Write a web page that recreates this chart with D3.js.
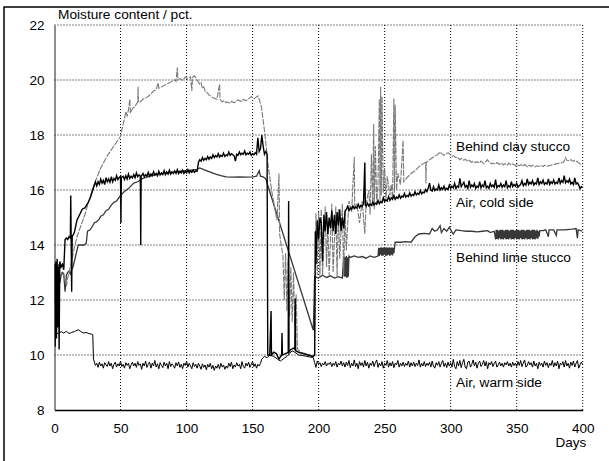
<!DOCTYPE html>
<html>
<head>
<meta charset="utf-8">
<script src="https://cdn.jsdelivr.net/npm/d3@7"></script>
<style>
  body { margin: 0; background: #fff; }
  svg text { font-family: "Liberation Sans", Arial, sans-serif; fill: #000; }
</style>
</head>
<body>
<div id="chart"></div>
<script>
// x ticks (days) and y ticks (moisture content)
const dayTicks = [0, 50, 100, 150, 200, 250, 300, 350, 400];
const moistTicks = [8, 10, 12, 14, 16, 18, 20, 22];

// [day, moisture %]
const clayStucco = [
  [5,13.0],[7,12.9],[9,12.5],[10,12.8],[11,13.0],[13,13.4],[15,13.9],[17,14.3],[20,14.7],[23,15.1],[26,15.6],[30,16.2],
  [35,16.8],[40,17.25],[45,17.6],[50,17.95],[52,18.4],[53,18.6],[54,18.85],[55,18.7],[56,18.9],[57,19.3],[57.5,18.8],
  [59,18.95],[61,19.05],[63,19.2],[63.3,19.75],[63.6,19.2],[65,19.2],[67,19.3],[69,19.35],[71,19.4],[73,19.5],[75,19.6],
  [77,19.65],[78.5,19.9],[79,19.7],[81,19.75],[83,19.8],[85,19.85],[87,19.9],[89,19.95],[91,20.0],[92,19.95],[93,20.45],
  [93.5,20.0],[95,20.05],[97,20.0],[99,20.1],[101,20.05],[103,20.12],[104,19.6],[104.5,20.1],[106,20.15],[108,20.0],
  [110,19.85],[111,19.9],[112,19.7],[113,19.75],[114,19.6],[116,19.52],[117,19.45],[119,19.4],[120,19.35],[122,19.32],
  [123,19.3],[125,19.85],[125.4,19.3],[127,19.2],[128,19.25],[130,19.18],[131,19.2],[133,19.15],[134,19.22],[136,19.18],
  [137,19.2],[139,19.28],[140,19.25],[142,19.22],[143,19.3],[145,19.25],[146,19.28],[148,19.35],[149,19.4],[151,19.32],
  [152,19.35],[154,19.42],[155,19.3],[156.8,19.0],
  [159.3,18.05],[161.9,16.85],[164.4,16.0],[167,15.27],[168.5,14.9],[170,16.6],[170.5,14.4],[172,13.9],[173,13.6],
  [174,12.0],[175,13.7],[176,11.6],[177,13.5],[178,11.4],[179,13.2],[180,11.2],[181,13.0],[182,11.0],[183,12.2],
  [184,10.2],[187,10.1],[190,10.05],[193,10.0],[196,9.93],[197,10.0],[198,15.15],[199,12.9],[200,15.2],[201,12.8],
  [202,15.3],[203,12.9],[205,15.4],[206,13.2],[207,14.8],[208,12.9],[210,15.5],[211,13.0],[213,15.4],[214,12.85],
  [215,15.3],[216,13.5],[218,15.5],[219,12.9],[220,15.3],[221,13.8],[223,15.6],[225,15.2],[227,17.2],[227.4,15.3],
  [229,15.5],[231,14.8],[233,15.6],[235,14.4],[236,15.5],[238,16.0],[239,15.1],[240,17.3],[241,15.4],[241.7,18.4],
  [242.2,15.3],[243,17.6],[244,15.5],[245,16.2],[246,19.3],[246.5,15.6],[247,19.76],[247.5,15.8],[248,19.4],[249,15.9],
  [250,16.8],[251,15.6],[252,16.5],[254,15.8],[255,16.2],[256,15.7],[257,19.33],[257.5,15.9],[258,19.1],[259,16.0],
  [260,16.6],[262,16.2],[264,17.8],[264.5,16.3],[266,16.4],[268,16.5],[270,16.6],[273,16.7],[276,16.85],[279,16.95],
  [281,17.0],[281.3,16.24],[281.6,17.0],[284,17.1],[287,17.2],[290,17.28],[292,17.38],[293,17.33],[295,17.26],[296,17.3],
  [298,17.35],[299,17.32],[301,17.22],[302,17.25],[304,17.18],[305,17.2],[307,17.1],[308,17.15],[310,17.08],[311,17.12],
  [313,17.04],[314,17.08],[316,17.0],[317,17.05],[319,17.0],[320,17.03],[322,16.98],[323,17.05],[325,16.96],[326,17.0],
  [328,17.1],[329,17.02],[331,16.95],[332,16.98],[334,16.94],[335,17.0],[337,16.93],[338,16.98],[340,16.92],[341,16.96],
  [343,16.9],[344,16.98],[346,16.9],[347,16.95],[349,16.88],[350,16.94],[352,16.88],[353,16.92],[355,16.86],
  [356,16.93],[358,16.85],[359,16.9],[361,16.86],[362,16.9],[364,16.84],[365,16.88],[367,16.86],[368,16.9],[370,16.85],
  [371,16.9],[373,16.86],[374,16.88],[376,16.9],[377,16.92],[379,16.94],[380,16.95],[382,16.97],[383,16.98],[385,17.0],
  [386,17.05],[387,17.18],[388,17.08],[390,17.06],[391,17.1],[393,17.04],[394,17.08],[396,17.02],[397,16.98],[399,16.92],
  [400,16.95]
];

const coldSide = [
  [0,13.3],[0.5,10.3],[1,13.4],[1.5,10.6],[2,13.5],[2.5,11.0],[3,13.2],[3.5,10.2],[4,13.4],[5,13.2],[6,13.3],[7,13.1],
  [8,14.2],[9,14.25],[10,14.2],[11,14.3],[12,14.25],[12.3,15.8],[12.6,14.3],[13,12.3],[13.4,14.3],[15,14.45],[17,14.9],
  [19,15.1],[21,15.3],[23,15.35],[25,15.5],[27,15.7],[29,16.0],[31,16.3],[32,16.15],[33,16.3],[34,16.2],[35,16.4],
  [36,16.25],[37,16.35],[38,16.2],[39,16.45],[40,16.3],[41,16.4],[42,16.28],[43,16.48],[44,16.3],[45,16.42],[46,16.35],
  [47,16.52],[48,16.38],[49,16.46],[50,16.5],[50.3,14.8],[50.6,16.45],[52,16.5],[53,16.38],[54,16.52],[55,16.4],
  [56,16.58],[57,16.42],[58,16.5],[59,16.44],[60,16.56],[61,16.45],[62,16.62],[63,16.48],[64,16.55],[65,16.5],
  [65.3,14.0],[65.6,16.5],[67,16.6],[68,16.48],[69,16.56],[70,16.5],[71,16.64],[72,16.5],[73,16.58],[74,16.52],
  [75,16.66],[76,16.54],[77,16.6],[78,16.52],[79,16.68],[80,16.55],[81,16.62],[82,16.56],[83,16.7],[84,16.56],
  [85,16.66],[86,16.58],[87,16.72],[88,16.58],[89,16.66],[90,16.6],[91,16.7],[92,16.6],[93,16.74],[94,16.6],[95,16.68],
  [96,16.62],[97,16.72],[98,16.6],[99,16.68],[100,16.62],[101,16.74],[102,16.62],[103,16.7],[104,16.64],[105,16.72],
  [106,16.64],[107,16.7],[108,16.68],[109,17.0],[110,17.1],[111,17.05],[112,17.18],[113,17.08],[114,17.15],[115,17.1],
  [116,17.22],[117,17.12],[118,17.2],[119,17.15],[120,17.28],[121,17.18],[122,17.25],[123,17.2],[124,17.32],[125,17.2],
  [126,17.26],[127,17.22],[128,17.34],[129,17.22],[130,17.28],[131,17.25],[132,17.38],[133,17.26],[134,17.32],
  [135,17.28],[136,17.25],[137,17.05],[138,17.3],[139,17.26],[140,17.38],[141,17.28],[142,17.34],[143,17.3],[144,17.42],
  [145,17.28],[146,17.34],[147,17.3],[148,17.38],[149,17.26],[150,17.32],[151,17.28],[152,17.36],[153,17.3],
  [154,17.9],[155,17.4],[156,17.5],[157,18.0],[158,17.6],[159,17.3],[160,17.4],[161,17.3],
  [161.5,10.0],[163,10.0],[164,11.6],[164.3,10.0],[166,10.1],[168,10.05],[170,9.85],[172,10.0],[172.3,10.8],
  [172.6,10.0],[175,10.05],[177,10.1],[177.3,15.6],[177.6,10.1],[179,10.2],[181,10.25],[182,10.2],[182.3,12.05],
  [182.6,10.15],[185,10.1],[188,10.05],[192,10.0],[196,9.95],[197,10.0],[197.5,14.5],[198,13.3],[199,14.9],[200,14.2],
  [201,15.0],[202,14.8],[203,13.4],[204,15.1],[205,14.5],[206,15.2],[207,14.4],[208,15.0],[209,14.6],[210,15.25],
  [211,14.5],[212,15.1],[213,14.4],[214,15.2],[215,14.7],[216,15.3],[217,14.5],[218,15.0],[219,14.6],[220,15.2],
  [221,15.3],[222,15.4],[223,15.25],[224,15.35],[225,15.3],[226,15.42],[227,15.32],[228,15.38],[229,15.34],[230,15.48],
  [231,15.36],[232,15.44],[233,15.4],[234,15.5],[235,17.0],[235.4,15.45],[236,15.4],[237,15.52],[238,15.42],[239,15.48],
  [240,15.44],[241,15.56],[242,15.46],[243,15.52],[244,15.48],[245,15.62],[246,15.5],[247,15.58],[248,15.54],[249,15.72],
  [250,15.58],[251,15.64],[252,15.6],[253,15.76],[254,15.62],[255,15.72],[256,15.66],[257,15.8],[258,15.66],[259,15.74],
  [260,15.7],[261,15.82],[262,15.7],[263,15.78],[264,15.74],[265,15.88],[266,15.74],[267,15.8],[268,15.76],[269,15.9],
  [270,15.78],[271,15.84],[272,15.8],[273,15.94],[274,15.82],[275,15.88],[276,15.84],[277,15.98],[278,15.86],
  [279,15.92],[280,15.9],[281,16.02],[282,15.94],[283,16.06],[284,16.25],[285,16.0],[286,15.96],[287,16.12],[288,15.98],
  [289,16.04],[290,16.0],[291,16.18],[292,16.0],[293,16.08],[294,16.02],[295,16.14],[296,16.0],[297,16.06],[298,16.02],
  [299,16.18],[300,16.06],[301,16.14],[302,16.08],[303,16.24],[304,16.06],[305,16.14],[306,16.1],[307,16.42],
  [308,16.12],[309,16.2],[310,16.28],[311,16.1],[312,16.16],[313,16.06],[314,16.34],[315,16.1],[316,16.18],[317,16.12],
  [318,16.24],[319,16.06],[320,16.14],[321,16.1],[322,16.3],[323,16.08],[324,16.18],[325,16.12],[326,16.34],[327,16.08],
  [328,16.14],[329,16.06],[330,16.24],[331,16.12],[332,16.18],[333,16.1],[334,16.38],[335,16.08],[336,16.16],
  [337,16.12],[338,16.24],[339,16.1],[340,16.18],[341,16.12],[342,16.34],[343,16.08],[344,16.16],[345,16.1],[346,16.3],
  [347,16.12],[348,16.2],[349,16.14],[350,16.24],[351,16.1],[352,16.16],[353,16.2],[354,16.34],[355,16.16],[356,16.24],
  [357,16.18],[358,16.4],[359,16.2],[360,16.28],[361,16.22],[362,16.34],[363,16.18],[364,16.26],[365,16.22],[366,16.44],
  [367,16.2],[368,16.3],[369,16.24],[370,16.36],[371,16.2],[372,16.26],[373,16.22],[374,16.4],[375,16.2],[376,16.3],
  [377,16.24],[378,16.36],[379,16.22],[380,16.28],[381,16.24],[382,16.44],[383,16.24],[384,16.34],[385,16.28],
  [386,16.52],[387,16.26],[388,16.34],[389,16.28],[390,16.4],[391,16.22],[392,16.28],[393,16.2],[394,16.44],[395,16.22],
  [396,16.26],[397,16.18],[398,16.05],[399,16.12],[400,16.1]
];

const limeStucco = [
  [2,12.9],[3,13.3],[4,12.6],[5,12.9],[6,13.0],[7,12.95],[8,12.3],[9,12.9],[10,13.0],[11,13.05],[12,12.95],[13,13.1],
  [14,13.2],[16,13.6],[18,14.0],[20,14.0],[22,14.0],[24,14.05],[25,14.5],[27,14.55],[29,14.7],[30,14.8],[32,14.85],
  [34,14.95],[35,15.05],[37,15.1],[39,15.25],[41,15.3],[43,15.45],[45,15.55],[47,15.6],[50,15.8],[53,15.95],[56,16.05],
  [58,16.15],[60,16.25],[63,16.3],[67,16.42],[72,16.5],[78,16.58],[85,16.62],[92,16.66],[100,16.7],[105,16.73],
  [108,16.75],[110,16.8],[114,16.72],[118,16.65],[122,16.58],[126,16.52],[130,16.48],[135,16.47],[140,16.48],
  [145,16.47],[150,16.48],[153,16.5],[155,16.7],[156,16.5],[158,16.48],[160,16.4],[196,10.9],[197,12.85],[200,12.8],
  [203,12.9],[206,12.82],[209,12.88],[212,12.8],[215,12.85],[218,12.8],[219,13.6],[219.5,12.85],[220,13.55],
  [220.5,12.85],[221,13.6],[221.5,12.8],[222,13.55],[222.5,12.85],[223,13.6],[224,13.55],[227,13.6],[230,13.55],
  [233,13.58],[236,13.52],[239,13.6],[242,13.55],[245,13.6],[245.5,13.9],[246,13.6],[246.5,13.9],[247,13.65],
  [247.5,13.92],[248,13.6],[248.5,13.9],[249,13.62],[249.5,13.92],[250,13.65],[250.5,13.9],[251,13.6],[251.5,13.92],
  [252,13.62],[252.5,13.9],[253,13.65],[253.5,13.92],[254,13.6],[254.5,13.9],[255,13.65],[255.5,13.92],[256,13.62],
  [256.5,13.9],[257,13.7],[258,14.1],[262,14.1],[266,14.12],[270,14.1],[273,14.3],[276,14.4],[280,14.42],[284,14.4],
  [286,14.6],[288,14.5],[290,14.55],[292,14.7],[293,14.45],[295,14.6],[297,14.5],[299,14.65],[300,14.55],[302,14.4],
  [304,14.55],[308,14.52],[312,14.5],[316,14.5],[320,14.48],[324,14.5],[328,14.52],[330,14.45],[333,14.5],
  [334,14.2],[334.5,14.55],[335,14.22],[335.5,14.55],[336,14.2],[336.5,14.52],[337,14.25],[337.5,14.55],[338,14.2],
  [338.5,14.55],[339,14.22],[339.5,14.55],[340,14.2],[340.5,14.52],[341,14.25],[341.5,14.55],[342,14.2],[342.5,14.55],
  [343,14.22],[343.5,14.55],[344,14.2],[344.5,14.52],[345,14.25],[345.5,14.55],[346,14.2],[346.5,14.55],[347,14.22],
  [347.5,14.55],[348,14.2],[348.5,14.52],[349,14.25],[349.5,14.55],[350,14.2],[350.5,14.55],[351,14.22],[351.5,14.55],
  [352,14.2],[352.5,14.52],[353,14.25],[353.5,14.55],[354,14.2],[354.5,14.55],[355,14.22],[355.5,14.55],[356,14.2],
  [356.5,14.52],[357,14.25],[357.5,14.55],[358,14.2],[358.5,14.55],[359,14.22],[359.5,14.55],[360,14.2],[360.5,14.52],
  [361,14.25],[361.5,14.55],[362,14.2],[362.5,14.55],[363,14.22],[363.5,14.55],[364,14.2],[364.5,14.52],[365,14.25],
  [365.5,14.55],[366,14.22],[366.5,14.5],[367,14.3],[367.5,14.52],
  [370,14.52],[372,14.55],[374,14.3],[374.5,14.55],[378,14.55],[380,14.35],
  [380.5,14.55],[386,14.55],[392,14.58],[395,14.6],[396,14.25],[396.5,14.55],[400,14.5]
];

const warmSide = [
  [0,10.75],[1,10.8],[3,10.78],[5,10.85],[7,10.8],[9,10.86],[11,10.78],[13,10.82],[15,10.85],[17,10.9],[18,10.92],
  [20,10.85],[22,10.8],[24,10.82],[26,10.78],[28,10.76],[29,10.74],[29.5,9.85],
  [30,9.78],[31,9.62],[32,9.7],[33,9.55],[34,9.74],[35,9.6],[36,9.68],[37,9.52],[38,9.72],[39,9.64],[40,9.58],
  [41,9.76],[42,9.6],[43,9.7],[44,9.5],[45,9.66],[46,9.74],[47,9.56],[48,9.68],[49,9.6],[50,9.78],[51,9.58],[52,9.66],
  [53,9.52],[54,9.72],[55,9.62],[56,9.7],[57,9.5],[58,9.64],[59,9.74],[60,9.6],[61,9.7],[62,9.55],[63,9.76],[64,9.62],
  [65,9.68],[66,9.48],[67,9.7],[68,9.6],[69,9.78],[70,9.55],[71,9.66],[72,9.74],[73,9.52],[74,9.7],[75,9.6],[76,9.8],
  [77,9.56],[78,9.68],[79,9.5],[80,9.72],[81,9.62],[82,9.54],[83,9.74],[84,9.6],[85,9.7],[86,9.5],[87,9.76],[88,9.58],
  [89,9.68],[90,9.62],[91,9.52],[92,9.72],[93,9.6],[94,9.75],[95,9.55],[96,9.66],[97,9.5],[98,9.7],[99,9.62],[100,9.78],
  [101,9.56],[102,9.7],[103,9.6],[104,9.5],[105,9.72],[106,9.58],[107,9.66],[108,9.52],[109,9.7],[110,9.6],[111,9.48],
  [112,9.68],[113,9.55],[114,9.64],[115,9.46],[116,9.66],[117,9.56],[118,9.7],[119,9.5],[120,9.62],[121,9.44],
  [122,9.6],[123,9.52],[124,9.66],[125,9.5],[126,9.7],[127,9.56],[128,9.64],[129,9.48],[130,9.6],[131,9.52],[132,9.7],
  [133,9.58],[134,9.74],[135,9.5],[136,9.64],[137,9.56],[138,9.72],[139,9.6],[140,9.66],[141,9.5],[142,9.76],[143,9.58],
  [144,9.52],[145,9.7],[146,9.6],[147,9.74],[148,9.55],[149,9.66],[150,9.76],[151,9.58],[152,9.68],[153,9.52],
  [154,9.66],[155,9.6],[156,9.7],[157,9.85],[159,9.95],[161,9.9],[163,10.0],[166,9.95],[169,9.85],
  [171,9.78],[173,9.85],[176,9.95],[178,10.05],[180,10.15],[182,10.1],[185,10.0],[188,9.98],[191,9.95],[194,9.92],
  [196,9.9],[197,9.72],[198,9.55],[199,9.78],[200,9.66],[201,9.72],[202,9.58],[203,9.7],[204,9.64],[205,9.76],
  [206,9.6],[207,9.7],[208,9.66],[209,9.74],[210,9.58],[211,9.7],[212,9.62],[213,9.76],[214,9.56],[215,9.7],[216,9.64],
  [217,9.78],[218,9.6],[219,9.72],[220,9.56],[221,9.74],[222,9.62],[223,9.8],[224,9.54],[225,9.7],[226,9.6],[227,9.82],
  [228,9.58],[229,9.7],[230,9.5],[231,9.76],[232,9.62],[233,9.72],[234,9.56],[235,9.8],[236,9.6],[237,9.74],[238,9.52],
  [239,9.7],[240,9.62],[241,9.78],[242,9.58],[243,9.72],[244,9.82],[245,9.55],[246,9.7],[247,9.6],[248,9.76],[249,9.52],
  [250,9.7],[251,9.62],[252,9.8],[253,9.56],[254,9.72],[255,9.6],[256,9.76],[257,9.54],[258,9.7],[259,9.64],[260,9.8],
  [261,9.56],[262,9.7],[263,9.6],[264,9.74],[265,9.58],[266,9.7],[267,9.62],[268,9.78],[269,9.56],[270,9.72],[271,9.6],
  [272,9.74],[273,9.58],[274,9.7],[275,9.62],[276,9.82],[277,9.56],[278,9.7],[279,9.6],[280,9.76],[281,9.58],[282,9.7],
  [283,9.62],[284,9.74],[285,9.56],[286,9.78],[287,9.6],[288,9.52],[289,9.72],[290,9.62],[291,9.76],[292,9.56],
  [293,9.7],[294,9.8],[295,9.58],[296,9.7],[297,9.54],[298,9.74],[299,9.6],[300,9.72],[301,9.56],[302,9.84],[303,9.58],
  [304,9.5],[305,9.76],[306,9.6],[307,9.8],[308,9.54],[309,9.72],[310,9.84],[311,9.56],[312,9.5],[313,9.74],[314,9.78],
  [315,9.56],[316,9.66],[317,9.82],[318,9.6],[319,9.74],[320,9.52],[321,9.7],[322,9.78],[323,9.58],[324,9.66],
  [325,9.8],[326,9.6],[327,9.76],[328,9.5],[329,9.72],[330,9.64],[331,9.76],[332,9.58],[333,9.7],[334,9.78],[335,9.56],
  [336,9.64],[337,9.74],[338,9.6],[339,9.7],[340,9.56],[341,9.72],[342,9.64],[343,9.76],[344,9.6],[345,9.7],[346,9.56],
  [347,9.74],[348,9.62],[349,9.7],[350,9.58],[351,9.76],[352,9.62],[353,9.8],[354,9.58],[355,9.7],[356,9.82],
  [357,9.56],[358,9.62],[359,9.76],[360,9.64],[361,9.72],[362,9.56],[363,9.78],[364,9.6],[365,9.7],[366,9.5],
  [367,9.74],[368,9.62],[369,9.7],[370,9.56],[371,9.78],[372,9.62],[373,9.72],[374,9.54],[375,9.7],[376,9.62],
  [377,9.8],[378,9.56],[379,9.72],[380,9.6],[381,9.78],[382,9.5],[383,9.7],[384,9.64],[385,9.76],[386,9.56],[387,9.8],
  [388,9.6],[389,9.7],[390,9.52],[391,9.74],[392,9.62],[393,9.78],[394,9.56],[395,9.7],[396,9.8],[397,9.52],[398,9.64],
  [399,9.74],[400,9.66]
];

const seriesLabels = ["Behind clay stucco", "Air, cold side", "Behind lime stucco", "Air, warm side"];

const W = 609, H = 461;
const plot = { left: 54.5, right: 582.7, top: 25, bottom: 410 };

const svg = d3.select("#chart").append("svg")
    .attr("width", W)
    .attr("height", H);

const x = d3.scaleLinear().domain([0, 400]).range([plot.left, plot.right]);
const y = d3.scaleLinear().domain([8, 22]).range([plot.bottom, plot.top]);

// outer frame (only left and top edges show)
svg.append("path")
    .attr("d", `M4,${H} L4,7 L${W},7`)
    .attr("fill", "none")
    .attr("stroke", "#000")
    .attr("stroke-width", 1.5);

// dotted grid
svg.append("g").selectAll("line")
    .data(dayTicks.slice(1))
    .join("line")
    .attr("x1", d => x(d)).attr("x2", d => x(d))
    .attr("y1", plot.top).attr("y2", plot.bottom)
    .attr("stroke", "#000").attr("stroke-dasharray", "1,2");

svg.append("g").selectAll("line")
    .data(moistTicks.slice(1))
    .join("line")
    .attr("x1", plot.left).attr("x2", plot.right)
    .attr("y1", d => y(d)).attr("y2", d => y(d))
    .attr("stroke", "#000").attr("stroke-dasharray", "1,2");

// axes
const xAxis = svg.append("g")
    .attr("transform", `translate(0,${plot.bottom})`)
    .call(d3.axisBottom(x).tickValues(dayTicks).tickSize(0).tickPadding(13));
const yAxis = svg.append("g")
    .attr("transform", `translate(${plot.left},0)`)
    .call(d3.axisLeft(y).tickValues(moistTicks).tickSize(0).tickPadding(10));

xAxis.select(".domain").attr("stroke", "#000").attr("stroke-width", 1.5);
yAxis.select(".domain").attr("stroke", "#444").attr("stroke-width", 1.2);
svg.selectAll(".tick text")
    .style("font-family", "'Liberation Sans', Arial, sans-serif")
    .style("font-size", "13.5px")
    .attr("fill", "#000");

// lines
const line = d3.line().x(d => x(d[0])).y(d => y(d[1]));

svg.append("defs").append("clipPath").attr("id", "clip")
    .append("rect")
    .attr("x", plot.left).attr("y", plot.top - 2)
    .attr("width", plot.right - plot.left).attr("height", plot.bottom - plot.top + 2);

const lines = svg.append("g").attr("clip-path", "url(#clip)");

lines.append("path").datum(warmSide)
    .attr("d", line).attr("fill", "none")
    .attr("stroke", "#000").attr("stroke-width", 1);

lines.append("path").datum(limeStucco)
    .attr("d", line).attr("fill", "none")
    .attr("stroke", "#383838").attr("stroke-width", 1.3);

lines.append("path").datum(clayStucco)
    .attr("d", line).attr("fill", "none")
    .attr("stroke", "#7a7a7a").attr("stroke-width", 1.1)
    .attr("stroke-dasharray", "6,1.2");

lines.append("path").datum(coldSide)
    .attr("d", line).attr("fill", "none")
    .attr("stroke", "#000").attr("stroke-width", 1.4);

// series labels
const labelY = [150.5, 207, 261.5, 387];
svg.append("g").selectAll("text")
    .data(seriesLabels)
    .join("text")
    .attr("x", 456)
    .attr("y", (d, i) => labelY[i])
    .style("font-size", "13.7px")
    .text(d => d);

// axis titles
svg.append("text")
    .attr("x", 58).attr("y", 19)
    .style("font-size", "13.7px")
    .text("Moisture content / pct.");

svg.append("text")
    .attr("x", 571).attr("y", 447)
    .attr("text-anchor", "middle")
    .style("font-size", "13.5px")
    .text("Days");
</script>
</body>
</html>
